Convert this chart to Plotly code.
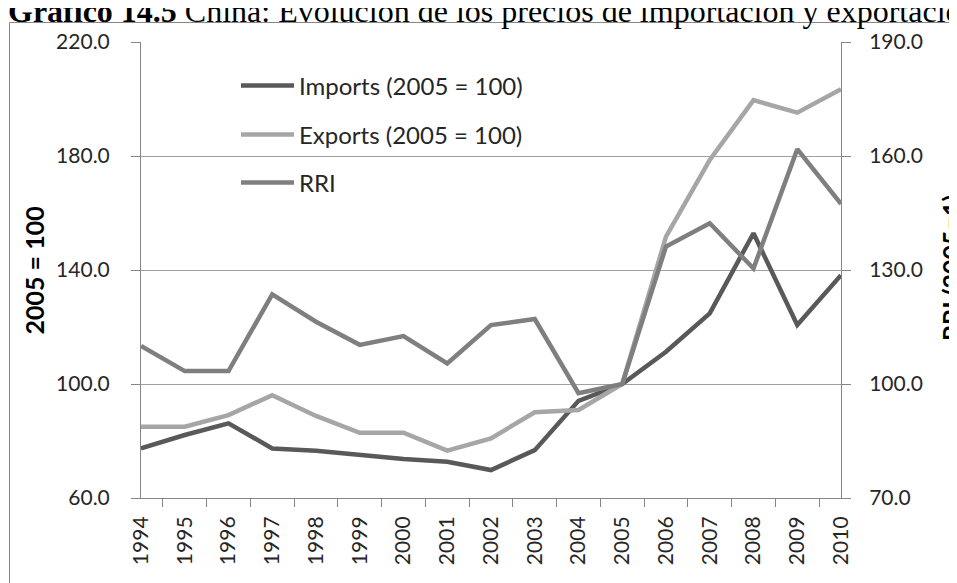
import plotly.graph_objects as go

years = ["1994", "1995", "1996", "1997", "1998", "1999", "2000", "2001", "2002",
         "2003", "2004", "2005", "2006", "2007", "2008", "2009", "2010"]
imports = [77.4, 82.1, 86.2, 77.4, 76.6, 75.1, 73.7, 72.7, 69.8,
           76.8, 94.1, 100.0, 111.3, 124.8, 152.9, 120.7, 138.2]
exports = [85.0, 85.0, 89.1, 96.1, 88.8, 82.9, 82.9, 76.6, 80.9,
           90.1, 90.9, 100.0, 151.7, 178.6, 199.6, 195.2, 203.4]
rri = [110.0, 103.4, 103.4, 123.6, 116.4, 110.3, 112.6, 105.4, 115.5,
       117.1, 97.6, 100.0, 136.2, 142.3, 130.4, 161.8, 147.4]

left_ticks = [60, 100, 140, 180, 220]
right_ticks = [70, 100, 130, 160, 190]
grid_vals = [100, 140, 180]

title_bold = "Gráfico 14.5"
title_rest = " China: Evolución de los precios de importación y exportación"
left_title = "2005 = 100"
right_title = "RRI (2005=1)"

# figure is drawn 8px in from the window edge (page body margin)
W, H = 957, 583
PL, PR, PT, PB = 133, 833, 34, 490

TICKFONT = dict(family="Lato", size=21, color="#262626")
AXCOL = "#868686"

fig = go.Figure()
fig.add_trace(go.Scatter(x=years, y=imports, name="Imports (2005 = 100)", mode="lines",
                         line=dict(color="#595959", width=4.5), legend="legend",
                         showlegend=True))
fig.add_trace(go.Scatter(x=years, y=exports, name="Exports (2005 = 100)", mode="lines",
                         line=dict(color="#a6a6a6", width=4.5), legend="legend2",
                         showlegend=True))
fig.add_trace(go.Scatter(x=years, y=rri, name="RRI", mode="lines", yaxis="y2",
                         line=dict(color="#7f7f7f", width=4.5), legend="legend3",
                         showlegend=True))

def leg(yc):
    return dict(x=228 / W, xanchor="left", y=1 - yc / H, yanchor="middle",
                bgcolor="rgba(0,0,0,0)", font=dict(family="Lato", size=24, color="#262626"),
                itemwidth=53)

fig.update_layout(
    width=W, height=H,
    margin=dict(l=0, r=0, t=0, b=0, autoexpand=False),
    showlegend=True,
    paper_bgcolor="white", plot_bgcolor="white",
    legend=leg(78), legend2=leg(127), legend3=leg(175),
    xaxis=dict(domain=[PL / W, PR / W], type="category", tickangle=-90, automargin=False,
               tickson="boundaries", ticks="outside", ticklen=8, tickcolor=AXCOL,
               showline=True, linecolor=AXCOL, linewidth=1, showgrid=False,
               tickfont=TICKFONT, ticklabelstandoff=9),
    yaxis=dict(domain=[1 - PB / H, 1 - PT / H], range=[60, 220], tickvals=left_ticks,
               automargin=False,
               tickformat=".1f", ticks="outside", ticklen=9, tickcolor=AXCOL,
               showline=True, linecolor=AXCOL, linewidth=1, showgrid=False, zeroline=False,
               tickfont=TICKFONT, ticklabelstandoff=17,
               minor=dict(tickvals=grid_vals, showgrid=True, gridcolor="#a0a0a0",
                          gridwidth=1, ticks="")),
    yaxis2=dict(overlaying="y", side="right", anchor="x", range=[70, 190], tickvals=right_ticks,
                automargin=False,
                tickformat=".1f", ticks="outside", ticklen=9, tickcolor=AXCOL,
                showline=True, linecolor=AXCOL, linewidth=1, showgrid=False, zeroline=False,
                tickfont=TICKFONT, ticklabelstandoff=14),
    shapes=[dict(type="rect", xref="paper", yref="paper", x0=1.5 / W, x1=1.05,
                 y0=-0.05, y1=1 - 14.5 / H, line=dict(color=AXCOL, width=1),
                 fillcolor="rgba(0,0,0,0)", layer="below")],
    annotations=[
        dict(text="<b>" + title_bold + "</b>" + title_rest, xref="paper", yref="paper",
             x=-2 / W, y=1 - 3 / H, xanchor="left", yanchor="middle", showarrow=False,
             font=dict(family="Liberation Serif", size=32, color="black")),
        dict(text="<b>" + left_title + "</b>", xref="paper", yref="paper",
             x=25.5 / W, y=1 - 263 / H, xanchor="center", yanchor="middle", textangle=-90,
             showarrow=False, font=dict(family="Lato", size=25, color="black")),
        dict(text="<b>" + right_title + "</b>", xref="paper", yref="paper",
             x=943 / W, y=1 - 260 / H, xanchor="center", yanchor="middle", textangle=-90,
             showarrow=False, font=dict(family="Lato", size=25, color="black")),
    ],
)

fig.write_html("out.html")
